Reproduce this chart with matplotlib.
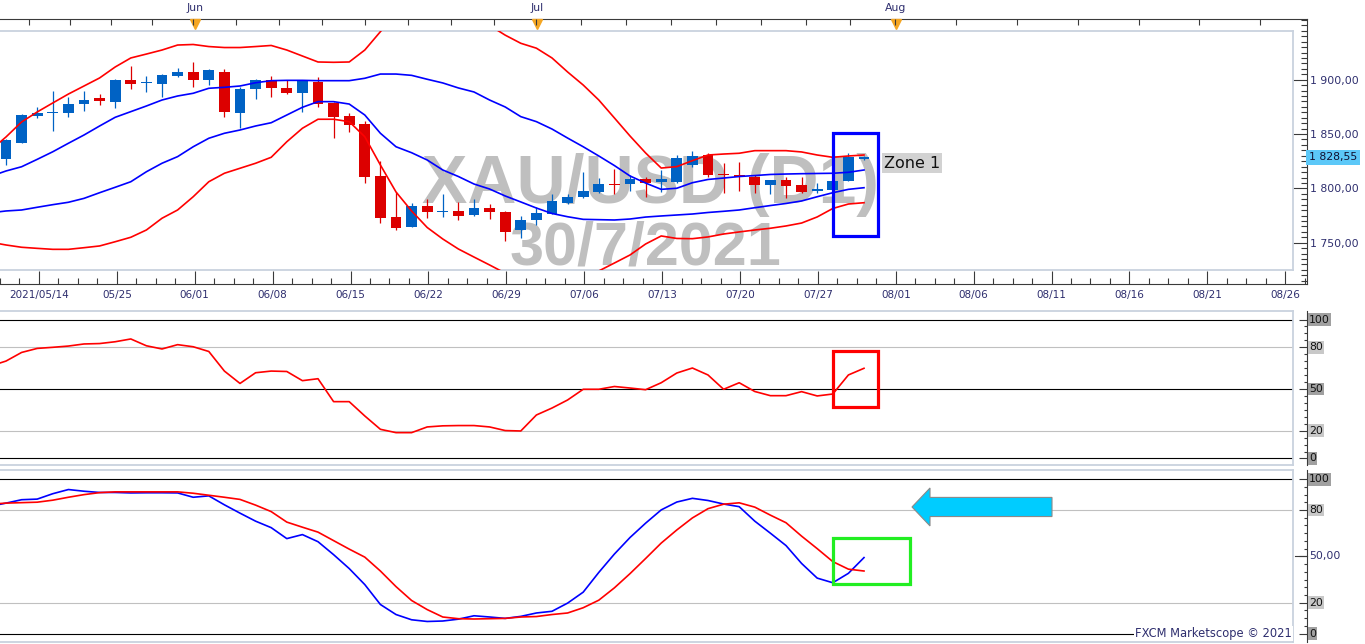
import numpy as np
import matplotlib
matplotlib.use("Agg")
import matplotlib.pyplot as plt
from matplotlib.patches import Rectangle, Polygon
from matplotlib.transforms import blended_transform_factory as blend

plt.rcParams['font.family'] = ['DejaVu Sans']

W, H = 1365, 644

# daily candles, bar 0 = 2021/05/14 ... bar 55 = 2021/07/30
opens = [1827.0, 1842.0, 1866.9, 1869.8, 1869.6, 1877.4, 1883.4, 1879.8, 1899.7, 1897.0,
         1896.3, 1903.4, 1907.1, 1899.7, 1907.1, 1869.6, 1891.2, 1899.7, 1892.1, 1888.0,
         1898.2, 1878.8, 1866.6, 1859.2, 1811.7, 1773.6, 1764.7, 1783.8, 1778.3, 1779.2,
         1775.8, 1781.9, 1778.0, 1761.4, 1770.6, 1776.7, 1786.8, 1791.8, 1796.9, 1803.6,
         1803.7, 1808.6, 1805.6, 1806.1, 1821.2, 1830.7, 1812.5, 1812.3, 1810.2, 1802.8,
         1807.7, 1803.1, 1797.9, 1798.5, 1807.0, 1826.9]
closes = [1844.5, 1867.5, 1869.1, 1870.2, 1877.6, 1881.3, 1880.7, 1899.7, 1896.3, 1897.4,
          1904.3, 1907.1, 1899.7, 1908.9, 1870.6, 1891.4, 1899.7, 1892.6, 1888.0, 1899.1,
          1877.4, 1866.0, 1858.3, 1810.7, 1773.0, 1763.3, 1783.8, 1778.3, 1778.7, 1774.9,
          1781.7, 1778.5, 1760.1, 1770.6, 1777.3, 1788.4, 1791.8, 1797.6, 1804.0, 1803.2,
          1808.6, 1804.7, 1808.9, 1827.9, 1829.8, 1812.3, 1812.1, 1810.7, 1802.8, 1807.7,
          1802.5, 1796.9, 1799.7, 1806.8, 1828.6, 1828.55]
highs = [1845.4, 1868.4, 1874.6, 1889.9, 1884.4, 1889.9, 1886.8, 1900.5, 1912.6, 1903.4,
         1905.2, 1910.5, 1916.6, 1909.5, 1909.6, 1893.0, 1900.5, 1903.4, 1899.7, 1899.5,
         1902.2, 1879.5, 1869.1, 1862.3, 1825.2, 1796.4, 1786.2, 1790.0, 1794.5, 1787.2,
         1790.2, 1785.6, 1779.2, 1774.8, 1782.8, 1794.8, 1794.8, 1815.0, 1809.5, 1817.8,
         1812.0, 1810.7, 1816.9, 1830.7, 1834.7, 1832.3, 1823.1, 1824.5, 1812.3, 1808.0,
         1810.7, 1810.7, 1804.7, 1807.0, 1832.3, 1829.9]
lows = [1821.5, 1842.0, 1864.5, 1853.1, 1865.4, 1871.5, 1876.4, 1873.7, 1891.4, 1889.0,
        1883.8, 1902.2, 1893.0, 1895.1, 1866.0, 1855.3, 1882.2, 1884.4, 1887.0, 1870.6,
        1875.2, 1846.1, 1852.1, 1804.7, 1768.4, 1761.7, 1764.0, 1772.7, 1774.0, 1770.9,
        1774.6, 1771.8, 1751.8, 1754.6, 1766.6, 1776.0, 1785.9, 1791.0, 1795.5, 1794.8,
        1797.9, 1792.3, 1796.9, 1805.2, 1820.0, 1810.2, 1796.0, 1797.9, 1795.5, 1794.8,
        1790.8, 1796.0, 1795.5, 1798.0, 1806.5, 1826.5]

# indicator lines start one bar earlier (bar -1) so they reach the left edge
bb_outer_up = [1835.0,
               1847.3, 1861.1, 1870.3, 1878.6, 1886.8, 1894.2, 1901.6, 1911.7, 1920.0, 1923.6,
               1927.3, 1931.9, 1932.4, 1930.5, 1929.6, 1929.6, 1930.5, 1931.5, 1927.3, 1921.8,
               1916.3, 1916.0, 1916.3, 1927.3, 1944.2, 1962.0, 1972.0, 1977.0, 1978.0, 1973.0,
               1963.0, 1950.0, 1941.0, 1933.5, 1929.0, 1920.0, 1907.1, 1895.1, 1881.3, 1864.8,
               1848.2, 1832.6, 1818.7, 1820.0, 1825.5, 1830.7, 1831.6, 1832.3, 1834.7, 1834.7,
               1834.7, 1833.5, 1830.7, 1828.6, 1829.8, 1830.7]
bb_outer_dn = [1750.5,
               1747.9, 1745.8, 1744.8, 1743.9, 1743.9, 1745.4, 1747.0, 1750.9, 1755.0, 1761.7,
               1772.5, 1780.1, 1792.3, 1806.1, 1813.9, 1818.5, 1823.1, 1828.6, 1842.9, 1855.3,
               1863.6, 1863.6, 1861.4, 1847.5, 1821.5, 1796.7, 1779.2, 1764.0, 1753.4, 1744.2,
               1736.8, 1729.5, 1722.0, 1716.0, 1712.0, 1710.0, 1713.0, 1718.0, 1724.0, 1731.3,
               1738.7, 1748.8, 1756.2, 1753.9, 1753.7, 1755.3, 1758.0, 1759.9, 1761.7, 1763.3,
               1765.4, 1768.1, 1773.7, 1781.5, 1785.6, 1786.8]
bb_inner_up = [1811.0,
               1816.0, 1819.9, 1826.7, 1833.7, 1841.5, 1849.1, 1857.4, 1865.4, 1870.6, 1875.8,
               1881.3, 1885.0, 1887.5, 1892.1, 1893.0, 1894.2, 1897.2, 1899.1, 1899.4, 1899.4,
               1899.1, 1899.1, 1899.1, 1901.3, 1905.2, 1905.2, 1904.0, 1900.4, 1897.0, 1892.4,
               1888.7, 1881.3, 1874.9, 1866.0, 1861.4, 1854.6, 1846.3, 1838.3, 1829.8, 1821.0,
               1811.4, 1804.9, 1799.1, 1800.1, 1805.2, 1808.2, 1809.5, 1810.9, 1811.8, 1812.8,
               1813.2, 1813.5, 1813.7, 1813.9, 1814.8, 1816.9]
bb_inner_dn = [1777.5,
               1779.2, 1780.1, 1782.6, 1785.0, 1787.2, 1790.8, 1796.0, 1801.0, 1806.1, 1815.3,
               1823.1, 1829.2, 1838.3, 1846.1, 1850.7, 1853.7, 1857.4, 1860.4, 1867.5, 1874.6,
               1879.8, 1879.8, 1877.6, 1867.5, 1850.7, 1838.3, 1832.8, 1826.1, 1816.9, 1810.9,
               1804.0, 1799.4, 1793.0, 1787.5, 1781.9, 1776.9, 1773.9, 1771.5, 1771.2, 1770.9,
               1771.8, 1773.6, 1774.6, 1775.5, 1776.4, 1777.8, 1778.9, 1780.1, 1782.2, 1784.2,
               1786.1, 1788.4, 1792.3, 1796.0, 1799.1, 1800.6]
rsi = [66.5,
       70.1, 76.3, 79.2, 80.0, 80.9, 82.4, 82.7, 84.0, 86.0, 81.1,
       78.8, 81.9, 80.4, 77.0, 62.9, 54.0, 61.7, 62.9, 62.6, 56.0,
       57.4, 40.9, 40.9, 30.6, 21.0, 18.6, 18.6, 22.7, 23.5, 23.7,
       23.7, 22.7, 20.1, 19.8, 31.3, 36.3, 42.1, 49.8, 49.8, 51.8,
       50.7, 49.5, 54.5, 61.5, 65.1, 60.1, 49.8, 54.5, 48.2, 45.2,
       45.2, 48.1, 45.0, 46.4, 60.1, 64.9]
stoch_k = [82.5,
           84.5, 86.7, 87.1, 90.6, 93.3, 92.2, 91.4, 91.4, 91.1, 91.2,
           91.2, 91.1, 88.3, 89.2, 83.4, 78.0, 72.8, 68.6, 61.5, 64.1,
           59.5, 51.1, 42.1, 31.7, 18.8, 12.3, 8.9, 7.8, 8.1, 9.3,
           11.5, 10.7, 9.8, 11.1, 13.3, 14.4, 19.7, 26.8, 39.6, 51.5,
           62.2, 71.5, 80.1, 85.2, 87.6, 86.2, 83.9, 82.2, 72.8, 65.0,
           57.0, 45.4, 35.9, 32.9, 39.0, 49.2]
stoch_d = [83.8,
           84.5, 84.8, 85.1, 86.4, 88.3, 90.0, 91.3, 91.8, 91.8, 91.8,
           91.8, 91.8, 90.9, 89.6, 88.3, 86.9, 83.2, 79.0, 72.2, 68.9,
           65.7, 60.2, 54.7, 49.5, 40.5, 30.4, 21.4, 15.5, 10.7, 9.6,
           9.4, 9.6, 9.8, 10.7, 11.0, 12.3, 13.3, 16.7, 21.6, 29.6,
           38.8, 48.6, 58.6, 67.1, 74.9, 80.9, 83.8, 84.7, 81.9, 76.7,
           71.8, 63.1, 55.0, 46.6, 41.7, 40.5]

tick_pos = [2, 7, 12, 17, 22, 27, 32, 37, 42, 47, 52, 57, 62, 67, 72, 77, 82]
tick_labels = ["2021/05/14", "05/25", "06/01", "06/08", "06/15", "06/22", "06/29",
               "07/06", "07/13", "07/20", "07/27", "08/01", "08/06", "08/11",
               "08/16", "08/21", "08/26"]
months = ["Jun", "Jul", "Aug"]
month_pos = [12, 34, 57]
last_price = 1828.55

NAVY = '#2e2e6e'
DARK = '#3a3a3a'
FRAME = '#c9d2de'
C_UP, C_DN = '#0062c4', '#dc0000'


def add_ax(x0, y0, x1, y1):
    return fig.add_axes([x0 / W, 1 - y1 / H, (x1 - x0) / W, (y1 - y0) / H])


def bar_of(px):
    return (px - 6.0) / 15.6


def style_frame(ax, spines=('right',)):
    for s in ax.spines:
        ax.spines[s].set_visible(s in spines)
        ax.spines[s].set_color(DARK)
        ax.spines[s].set_linewidth(0.8)
    ax.set_zorder(1)


def style_data(ax):
    ax.set_facecolor('none')
    for s in ax.spines:
        ax.spines[s].set_color(FRAME)
        ax.spines[s].set_linewidth(1.3)
    ax.spines['left'].set_visible(False)
    ax.set_xticks([])
    ax.set_yticks([])
    ax.set_zorder(2)


fig = plt.figure(figsize=(W / 100, H / 100), dpi=100)
XL_FRAME = (bar_of(0), bar_of(1307))
XL_DATA = (bar_of(0), bar_of(1293))

# ---------------- price panel ----------------
pf = add_ax(0, 19, 1307, 284)
style_frame(pf, ('right', 'top', 'bottom'))
pf.set_xlim(*XL_FRAME)
pf.set_ylim(1712.0, 1955.86)
pf.set_xticks(tick_pos)
pf.set_xticklabels(tick_labels)
pf.set_xticks([v for v in np.arange(-0.5, 83.4, 1.25) if v not in tick_pos], minor=True)
pf.tick_params(axis='x', which='major', direction='in', length=9.5, width=0.8, color=DARK,
               labelsize=7.5, labelcolor=NAVY, pad=4)
pf.tick_params(axis='x', which='minor', direction='in', length=4.5, width=0.8, color=DARK)
pf.yaxis.tick_right()
pf.set_yticks([1750, 1800, 1850, 1900])
pf.set_yticks(np.arange(1715, 1956, 5), minor=True)
pf.set_yticklabels([f"{v:,.2f}".replace(",", " ").replace(".", ",") for v in [1750, 1800, 1850, 1900]])
pf.tick_params(axis='y', which='major', direction='in', length=10, width=0.8, color=DARK,
               labelsize=7.8, labelcolor=NAVY, pad=2)
pf.tick_params(axis='y', which='minor', direction='in', length=4, width=0.8, color=DARK)

# top month axis
top = pf.twiny()
top.set_xlim(*XL_FRAME)
for s in top.spines.values():
    s.set_visible(False)
top_ticks = [month_pos[0] - k * 2.63 for k in range(4, 0, -1)]
top_ticks += list(np.linspace(month_pos[0], month_pos[1], 9))
top_ticks += list(np.linspace(month_pos[1], month_pos[2], 9))[1:]
top_ticks += [month_pos[2] + k * 3.9 for k in range(1, 7)]
top.set_xticks(top_ticks)
top.tick_params(axis='x', direction='in', length=4.3, width=0.8, color=DARK, labeltop=False)
tr_top = blend(pf.transData, fig.transFigure)
for m, p in zip(months, month_pos):
    pf.text(p, 1 - 8 / H, m, transform=tr_top, ha='center', va='center', fontsize=7.8, color=NAVY)
pf.plot(month_pos, [1 - 24 / H] * 3, 'v', transform=tr_top, color='#f5a623', ms=6.5,
        clip_on=False, zorder=5)

pf.text(1.0 + 2 / 1307, last_price, f"{last_price:,.2f}".replace(",", " ").replace(".", ","),
        transform=blend(pf.transAxes, pf.transData), ha='left', va='center', fontsize=7.8,
        color='#101030', bbox=dict(fc='#5cc8f8', ec='none', pad=2.0))

pm = add_ax(0, 31, 1293, 270)
style_data(pm)
pm.set_xlim(*XL_DATA)
pm.set_ylim(1724.88, 1944.81)

wm_font = ['Liberation Sans', 'DejaVu Sans']
pm.text(bar_of(650), 1786.5, "XAU/USD (D1)", ha='center', va='baseline', fontsize=49,
        fontweight='bold', family=wm_font, color='#bfbfbf', zorder=0)
pm.text(bar_of(645), 1730.4, "30/7/2021", ha='center', va='baseline', fontsize=44,
        fontweight='bold', family=wm_font, color='#bfbfbf', zorder=0)

bars = np.arange(len(opens))
o, c = np.array(opens), np.array(closes)
cols = np.where(c >= o, C_UP, C_DN)
pm.vlines(bars, lows, highs, colors=cols, lw=0.9, zorder=2)
pm.bar(bars, np.maximum(np.abs(c - o), 0.9), bottom=np.minimum(o, c), width=0.68,
       color=cols, linewidth=0, zorder=3)

lx = np.arange(-1, len(opens))
pm.plot(lx, bb_outer_up, color='#ff0000', lw=1.2, zorder=4)
pm.plot(lx, bb_outer_dn, color='#ff0000', lw=1.2, zorder=4)
pm.plot(lx, bb_inner_up, color='#0000ff', lw=1.2, zorder=4)
pm.plot(lx, bb_inner_dn, color='#0000ff', lw=1.2, zorder=4)

pm.add_patch(Rectangle((bar_of(833), 1756.2), bar_of(878) - bar_of(833), 94.8, fill=False,
                       ec='#0000ff', lw=2.3, zorder=6))
pm.text(bar_of(884), 1823.3, "Zone 1", ha='left', va='center', fontsize=11.5, color='#111111',
        bbox=dict(fc='#d2d2d2', ec='none', pad=1.5), zorder=7)

# ---------------- RSI panel ----------------
rf = add_ax(0, 311, 1307, 465)
style_frame(rf)
rf.set_xlim(*XL_FRAME)
rf.set_ylim(-4.68, 106.12)
rf.set_xticks([])
rf.yaxis.tick_right()
rf.set_yticks([0, 20, 50, 80, 100])
rf.set_yticks(np.arange(0, 101, 5), minor=True)
rf.tick_params(axis='y', which='major', direction='in', length=5.5, width=0.8, color=DARK,
               labelright=False)
rf.tick_params(axis='y', which='minor', direction='in', length=2.5, width=0.8, color=DARK)
tr_r = blend(rf.transAxes, rf.transData)
for v, fc in [(100, '#a0a0a0'), (80, '#c8c8c8'), (50, '#a0a0a0'), (20, '#c8c8c8'), (0, '#a0a0a0')]:
    rf.text(1.0 + 2 / 1307, v, str(v), transform=tr_r, ha='left', va='center', fontsize=7.8,
            color='#111111', bbox=dict(fc=fc, ec='none', pad=1.0))

ra = add_ax(0, 311, 1293, 465)
style_data(ra)
ra.set_xlim(*XL_DATA)
ra.set_ylim(-4.68, 106.12)
for v in (100, 50, 0):
    ra.axhline(v, color='black', lw=0.8, zorder=1)
for v in (80, 20):
    ra.axhline(v, color='#c0c0c0', lw=0.8, zorder=1)
ra.plot(lx, rsi, color='#ff0000', lw=1.2, zorder=3)
ra.add_patch(Rectangle((bar_of(833), 37.1), bar_of(878) - bar_of(833), 40.2, fill=False,
                       ec='#ff0000', lw=2.3, zorder=4))

# ---------------- stochastic panel ----------------
sf = add_ax(0, 470, 1307, 642)
style_frame(sf)
sf.set_xlim(*XL_FRAME)
sf.set_ylim(-5.5, 105.96)
sf.set_xticks([])
sf.yaxis.tick_right()
sf.set_yticks([0, 20, 50, 80, 100])
sf.set_yticks(np.arange(0, 101, 5), minor=True)
sf.tick_params(axis='y', which='major', direction='in', length=5.5, width=0.8, color=DARK,
               labelright=False)
sf.tick_params(axis='y', which='minor', direction='in', length=2.5, width=0.8, color=DARK)
tr_s = blend(sf.transAxes, sf.transData)
sf.plot([1 - 12 / 1307, 1], [50, 50], transform=tr_s, color=DARK, lw=0.8, clip_on=False)
for v, fc in [(100, '#a0a0a0'), (80, '#c8c8c8'), (20, '#c8c8c8'), (0, '#a0a0a0')]:
    sf.text(1.0 + 2 / 1307, v, str(v), transform=tr_s, ha='left', va='center', fontsize=7.8,
            color='#111111', bbox=dict(fc=fc, ec='none', pad=1.0))
sf.text(1.0 + 2 / 1307, 50, "50,00", transform=tr_s, ha='left', va='center', fontsize=7.8,
        color=NAVY)

sa = add_ax(0, 470, 1293, 642)
style_data(sa)
sa.set_xlim(*XL_DATA)
sa.set_ylim(-5.5, 105.96)
for v in (100, 0):
    sa.axhline(v, color='black', lw=0.8, zorder=1)
for v in (80, 20):
    sa.axhline(v, color='#c0c0c0', lw=0.8, zorder=1)
sa.plot(lx, stoch_k, color='#0000ff', lw=1.2, zorder=3)
sa.plot(lx, stoch_d, color='#ff0000', lw=1.2, zorder=3)
sa.add_patch(Rectangle((bar_of(833), 32.1), bar_of(910) - bar_of(833), 29.8, fill=False,
                       ec='#22ee22', lw=2.3, zorder=4))

# pointer arrow
tip, neck, tail, yc = bar_of(912), bar_of(930), bar_of(1052), 82.0
sa.add_patch(Polygon([(tip, yc), (neck, yc + 12.3), (neck, yc + 6.2), (tail, yc + 6.2),
                      (tail, yc - 6.2), (neck, yc - 6.2), (neck, yc - 12.3)],
                     closed=True, fc='#00ccff', ec='#8a8a8a', lw=0.8, zorder=5))

sa.text(0.999, 0, "FXCM Marketscope © 2021", transform=blend(sa.transAxes, sa.transData),
        ha='right', va='center', fontsize=8.3, color=NAVY,
        bbox=dict(fc='white', ec='none', pad=0.8), zorder=6)

fig.savefig("out.png", dpi=100, facecolor='white')
